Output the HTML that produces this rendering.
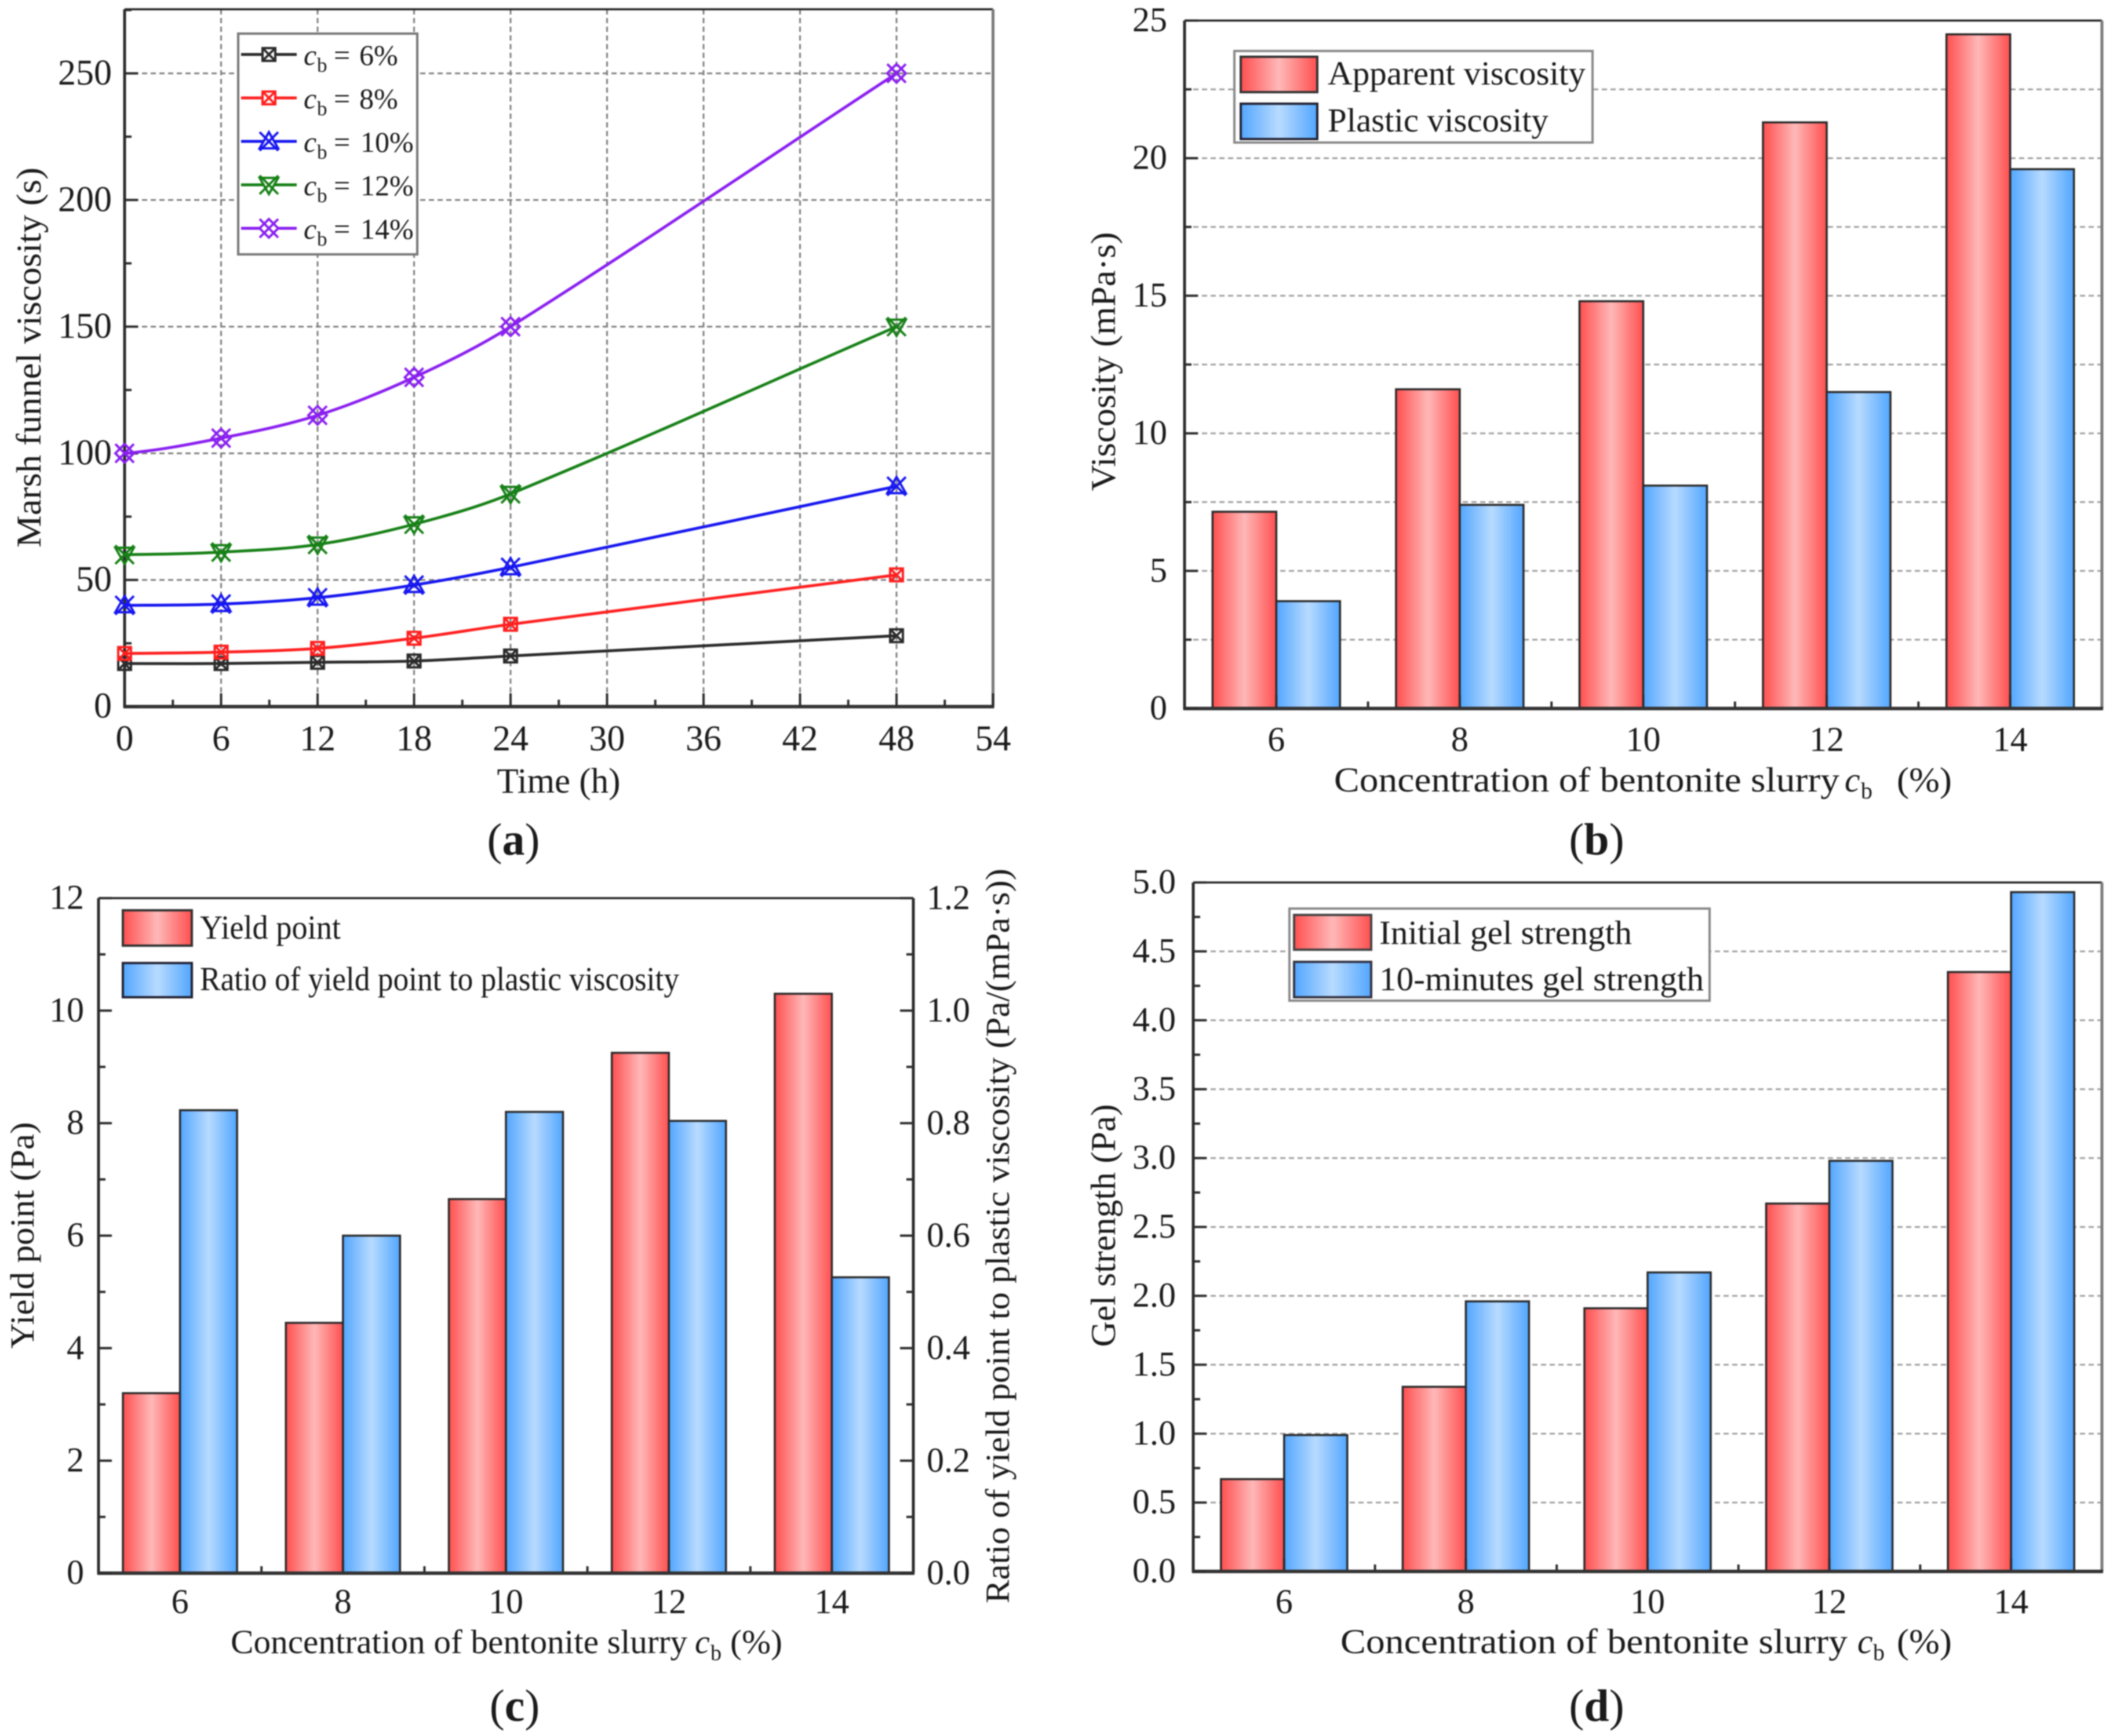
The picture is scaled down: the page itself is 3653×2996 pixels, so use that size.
<!DOCTYPE html>
<html><head><meta charset="utf-8"><title>Bentonite slurry properties</title>
<style>
html,body{margin:0;padding:0;background:#fff}
svg{display:block;filter:blur(1.1px)}
text{font-family:"Liberation Serif",serif;fill:#1a1a1a}
</style></head>
<body>
<svg id="fig" xmlns="http://www.w3.org/2000/svg" width="3653" height="2996" viewBox="0 0 3653 2996">
<defs>
<linearGradient id="redGrad" x1="0" x2="1" y1="0" y2="0"><stop offset="0" stop-color="#ff4f4f"/><stop offset="0.5" stop-color="#ffb8b8"/><stop offset="1" stop-color="#ff4f4f"/></linearGradient>
<linearGradient id="blueGrad" x1="0" x2="1" y1="0" y2="0"><stop offset="0" stop-color="#52a6ff"/><stop offset="0.5" stop-color="#b8dbff"/><stop offset="1" stop-color="#52a6ff"/></linearGradient>
</defs>
<rect x="0" y="0" width="3653" height="2996" fill="#fff"/>
<g id="layer-a"></g>
<g id="layer-b"></g>
<g id="layer-c"></g>
<g id="layer-d"></g>

<!-- panel a static text -->
<text transform="translate(70,617) rotate(-90)" text-anchor="middle" font-size="60" textLength="656" lengthAdjust="spacingAndGlyphs">Marsh funnel viscosity (s)</text>
<text x="964" y="1368" text-anchor="middle" font-size="61">Time (h)</text>
<g>
<rect x="411" y="58" width="309" height="381" fill="#fff" stroke="#777" stroke-width="4"/>
<g id="legend-a-marks"></g>
<g font-size="50">
<text y="112"><tspan x="524" font-style="italic">c</tspan><tspan x="547" dy="12" font-size="35">b</tspan><tspan x="576" dy="-12">=</tspan><tspan x="620">6%</tspan></text>
<text y="187"><tspan x="524" font-style="italic">c</tspan><tspan x="547" dy="12" font-size="35">b</tspan><tspan x="576" dy="-12">=</tspan><tspan x="620">8%</tspan></text>
<text y="262"><tspan x="524" font-style="italic">c</tspan><tspan x="547" dy="12" font-size="35">b</tspan><tspan x="576" dy="-12">=</tspan><tspan x="622">10%</tspan></text>
<text y="337"><tspan x="524" font-style="italic">c</tspan><tspan x="547" dy="12" font-size="35">b</tspan><tspan x="576" dy="-12">=</tspan><tspan x="622">12%</tspan></text>
<text y="412"><tspan x="524" font-style="italic">c</tspan><tspan x="547" dy="12" font-size="35">b</tspan><tspan x="576" dy="-12">=</tspan><tspan x="622">14%</tspan></text>
</g></g>
<text x="886" y="1475" text-anchor="middle" font-size="78">(<tspan font-weight="bold">a</tspan>)</text>

<!-- panel b static text -->
<text transform="translate(1924,624) rotate(-90)" text-anchor="middle" font-size="60" textLength="447" lengthAdjust="spacingAndGlyphs">Viscosity (mPa·s)</text>
<g font-size="60">
<text x="2302" y="1366" textLength="872" lengthAdjust="spacingAndGlyphs">Concentration of bentonite slurry</text>
<text y="1366"><tspan x="3183" font-style="italic">c</tspan><tspan x="3211" dy="12" font-size="40">b</tspan></text>
<text x="3273" y="1366" textLength="95" lengthAdjust="spacingAndGlyphs">(%)</text>
</g>
<g>
<rect x="2130" y="88" width="618" height="158" fill="#fff" stroke="#888" stroke-width="4"/>
<rect x="2141" y="98" width="132" height="61" fill="url(#redGrad)" stroke="#333" stroke-width="4"/>
<rect x="2141" y="179" width="132" height="61" fill="url(#blueGrad)" stroke="#223" stroke-width="4"/>
<text x="2291" y="146" font-size="58" textLength="445" lengthAdjust="spacingAndGlyphs">Apparent viscosity</text>
<text x="2291" y="227" font-size="58" textLength="381" lengthAdjust="spacingAndGlyphs">Plastic viscosity</text>
</g>
<text x="2755" y="1475" text-anchor="middle" font-size="78">(<tspan font-weight="bold">b</tspan>)</text>

<!-- panel c static text -->
<text transform="translate(58,2132) rotate(-90)" text-anchor="middle" font-size="58" textLength="391" lengthAdjust="spacingAndGlyphs">Yield point (Pa)</text>
<text transform="translate(1741,2133) rotate(-90)" text-anchor="middle" font-size="58" textLength="1268" lengthAdjust="spacingAndGlyphs">Ratio of yield point to plastic viscosity (Pa/(mPa·s))</text>
<g font-size="58">
<text x="398" y="2853" textLength="788" lengthAdjust="spacingAndGlyphs">Concentration of bentonite slurry</text>
<text y="2853"><tspan x="1199" font-style="italic">c</tspan><tspan x="1226" dy="12" font-size="38">b</tspan></text>
<text x="1260" y="2853" textLength="90" lengthAdjust="spacingAndGlyphs">(%)</text>
</g>
<g>
<rect x="212" y="1571" width="119" height="61" fill="url(#redGrad)" stroke="#333" stroke-width="4"/>
<rect x="212" y="1662" width="119" height="59" fill="url(#blueGrad)" stroke="#223" stroke-width="4"/>
<text x="345" y="1620" font-size="58" textLength="243" lengthAdjust="spacingAndGlyphs">Yield point</text>
<text x="345" y="1709" font-size="58" textLength="827" lengthAdjust="spacingAndGlyphs">Ratio of yield point to plastic viscosity</text>
</g>
<text x="888" y="2970" text-anchor="middle" font-size="78">(<tspan font-weight="bold">c</tspan>)</text>

<!-- panel d static text -->
<text transform="translate(1924,2115) rotate(-90)" text-anchor="middle" font-size="60" textLength="419" lengthAdjust="spacingAndGlyphs">Gel strength (Pa)</text>
<g font-size="60">
<text x="2313" y="2853" textLength="875" lengthAdjust="spacingAndGlyphs">Concentration of bentonite slurry</text>
<text y="2853"><tspan x="3205" font-style="italic">c</tspan><tspan x="3232" dy="12" font-size="40">b</tspan></text>
<text x="3273" y="2853" textLength="95" lengthAdjust="spacingAndGlyphs">(%)</text>
</g>
<g>
<rect x="2225" y="1568" width="725" height="159" fill="#fff" stroke="#888" stroke-width="4"/>
<rect x="2233" y="1579" width="133" height="60" fill="url(#redGrad)" stroke="#444" stroke-width="4"/>
<rect x="2233" y="1660" width="133" height="61" fill="url(#blueGrad)" stroke="#334" stroke-width="4"/>
<text x="2380" y="1629" font-size="58" textLength="436" lengthAdjust="spacingAndGlyphs">Initial gel strength</text>
<text x="2380" y="1709" font-size="58" textLength="560" lengthAdjust="spacingAndGlyphs">10-minutes gel strength</text>
</g>
<text x="2755" y="2970" text-anchor="middle" font-size="78">(<tspan font-weight="bold">d</tspan>)</text>
</svg>

<script>
// ---- panel a data ----
var hours = [0, 6, 12, 18, 24, 48];
var marsh6 = [17, 17, 17.5, 18, 20, 28];
var marsh8 = [21, 21.5, 23, 27, 32.5, 52];
var marsh10 = [40, 40.5, 43, 48, 55, 87];
var marsh12 = [60, 61, 64, 72, 84, 150];
var marsh14 = [100, 106, 115, 130, 150, 250];
var aXTicks = ['0','6','12','18','24','30','36','42','48','54'];
var aYTicks = ['0','50','100','150','200','250'];
// ---- panel b data ----
var concentrations = ['6','8','10','12','14'];
var apparentViscosity = [7.15, 11.6, 14.8, 21.3, 24.5];
var plasticViscosity = [3.9, 7.4, 8.1, 11.5, 19.6];
var bYTicks = ['0','5','10','15','20','25'];
// ---- panel c data ----
var yieldPoint = [3.2, 4.45, 6.65, 9.25, 10.3];
var yieldRatio = [0.823, 0.6, 0.82, 0.804, 0.526];
var cYTicks = ['0','2','4','6','8','10','12'];
var cRightTicks = ['0.0','0.2','0.4','0.6','0.8','1.0','1.2'];
// ---- panel d data ----
var initialGel = [0.67, 1.34, 1.91, 2.67, 4.35];
var tenMinuteGel = [0.99, 1.96, 2.17, 2.98, 4.93];
var dYTicks = ['0.0','0.5','1.0','1.5','2.0','2.5','3.0','3.5','4.0','4.5','5.0'];

var NS = 'http://www.w3.org/2000/svg';
function mk(parent, tag, attrs, txt) {
  var el = document.createElementNS(NS, tag);
  for (var k in attrs) el.setAttribute(k, attrs[k]);
  if (txt !== undefined) el.textContent = txt;
  parent.appendChild(el);
  return el;
}
var AXIS = '#2c2c2c';

function frame(g, p, darkRight) {
  var top = mk(g, 'line', {x1:p.L, x2:p.R, y1:p.T, y2:p.T, stroke:'#222', 'stroke-width':3.5});
  
  
  var right = mk(g, 'line', {x1:p.R, x2:p.R, y1:p.T, y2:p.B, stroke:darkRight ? AXIS : '#7a7a7a', 'stroke-width':5});
  
  
  var left = mk(g, 'line', {x1:p.L, x2:p.L, y1:p.T, y2:p.B + 2, stroke:AXIS, 'stroke-width':5});
  
  
  var bottom = mk(g, 'line', {x1:p.L - 2, x2:p.R + 2, y1:p.B, y2:p.B, stroke:'#333', 'stroke-width':6});
  
  
}
function yAt(p, v) { return p.B - (p.B - p.T) * v / p.ymax; }

function hGrid(g, p, v) {
  var y = yAt(p, v);
  var line = mk(g, 'line', {x1:p.L, x2:p.R, y1:y, y2:y, stroke:p.grid, 'stroke-width':3, 'stroke-dasharray':'9 6'});
  
  
}
function yTick(g, p, v, len, side) {
  var y = yAt(p, v);
  var x = side === 'right' ? p.R : p.L;
  var d = side === 'right' ? -len : len;
  var t = mk(g, 'line', {x1:x, x2:x + d, y1:y, y2:y, stroke:AXIS, 'stroke-width':4});
  
  
}
function xTick(g, p, x, len) {
  var t = mk(g, 'line', {x1:x, x2:x, y1:p.B, y2:p.B - len, stroke:AXIS, 'stroke-width':4});
  
  
}
function yLabels(g, p, labels) {
  labels.forEach(function (s) {
    var y = yAt(p, Number(s));
    var t = mk(g, 'text', {x:p.labelR, y:y + p.fs * 0.31, 'text-anchor':'end', 'font-size':p.fs}, s);
    
    
  });
}
function xLabel(g, p, x, s) {
  var t = mk(g, 'text', {x:x, y:p.tickBase, 'text-anchor':'middle', 'font-size':p.fs}, s);
  
  
}
function bar(g, x, y, w, h, grad) {
  var b = mk(g, 'rect', {x:x, y:y, width:w, height:h, fill:'url(#' + grad + ')', stroke:'#2a2a2a', 'stroke-width':3.5});
  
  
}

function barPanel(id, p, s1, s2, yTicks, yMax2, gridEvery, minor) {
  var g = document.getElementById(id);
  var n = concentrations.length;
  var step = (p.R - p.L) / n;
  if (gridEvery) {
    for (var v = gridEvery; v < p.ymax - 1e-6; v += gridEvery) hGrid(g, p, v);
  }
  concentrations.forEach(function (c, i) {
    var cx = p.L + (i + 0.5) * step;
    var y1 = yAt(p, s1[i]);
    var y2 = yAt({B:p.B, T:p.T, ymax:yMax2 || p.ymax}, s2[i]);
    bar(g, cx - p.bw, y1, p.bw, p.B - y1, 'redGrad');
    bar(g, cx, y2, p.bw, p.B - y2, 'blueGrad');
    xLabel(g, p, cx, c);
    xTick(g, p, cx, 23);
    if (i > 0) xTick(g, p, p.L + i * step, 12);
  });
  frame(g, p, !!yMax2);
  yTicks.forEach(function (s) {
    yTick(g, p, Number(s), 23, 'left');
    if (yMax2) yTick(g, p, Number(s), 23, 'right');
  });
  for (var m = minor; m < p.ymax; m += minor * 2) {
    yTick(g, p, m, 12, 'left');
    if (yMax2) yTick(g, p, m, 12, 'right');
  }
  yLabels(g, p, yTicks);
}

// ---- panel a ----
var pa = {L:215, R:1713.5, T:16, B:1219.5, ymax:275.3, xmax:54, fs:62, labelR:193, tickBase:1295, grid:'#808080'};
function xA(h) { return pa.L + (pa.R - pa.L) * h / pa.xmax; }
function curve(xs, ys) {
  var n = xs.length, m = [], i;
  for (i = 0; i < n; i++) {
    if (i === 0) m.push((ys[1] - ys[0]) / (xs[1] - xs[0]));
    else if (i === n - 1) m.push((ys[i] - ys[i-1]) / (xs[i] - xs[i-1]));
    else m.push((ys[i+1] - ys[i-1]) / (xs[i+1] - xs[i-1]));
  }
  m[0] = m[0] * 0.5;
  var d = 'M' + xA(xs[0]) + ' ' + yAt(pa, ys[0]);
  for (i = 0; i < n - 1; i++) {
    var dx = (xs[i+1] - xs[i]) / 3;
    d += ' C' + xA(xs[i] + dx) + ' ' + yAt(pa, ys[i] + m[i] * dx) + ' ' +
         xA(xs[i+1] - dx) + ' ' + yAt(pa, ys[i+1] - m[i+1] * dx) + ' ' +
         xA(xs[i+1]) + ' ' + yAt(pa, ys[i+1]);
  }
  return d;
}
function markerPath(kind, x, y) {
  var r = 11, X = 16;
  var cross = 'M' + (x-X) + ' ' + (y-X) + 'L' + (x+X) + ' ' + (y+X) + 'M' + (x+X) + ' ' + (y-X) + 'L' + (x-X) + ' ' + (y+X);
  if (kind === 'square') {
    return 'M' + (x-r) + ' ' + (y-r) + 'H' + (x+r) + 'V' + (y+r) + 'H' + (x-r) + 'Z' +
      'M' + (x-r) + ' ' + (y-r) + 'L' + (x+r) + ' ' + (y+r) + 'M' + (x+r) + ' ' + (y-r) + 'L' + (x-r) + ' ' + (y+r);
  }
  if (kind === 'tri-up') return 'M' + x + ' ' + (y-X) + 'L' + (x+X) + ' ' + (y+X-4) + 'H' + (x-X) + 'Z' + cross;
  if (kind === 'tri-down') return 'M' + x + ' ' + (y+X) + 'L' + (x+X) + ' ' + (y-X+4) + 'H' + (x-X) + 'Z' + cross;
  return 'M' + x + ' ' + (y-X) + 'L' + (x+X) + ' ' + y + 'L' + x + ' ' + (y+X) + 'L' + (x-X) + ' ' + y + 'Z' + cross;
}
(function () {
  var g = document.getElementById('layer-a');
  aYTicks.slice(1).forEach(function (s) { hGrid(g, pa, Number(s)); });
  aXTicks.slice(1, 9).forEach(function (s) {
    var x = xA(Number(s));
    var l = mk(g, 'line', {x1:x, x2:x, y1:pa.T, y2:pa.B, stroke:pa.grid, 'stroke-width':3, 'stroke-dasharray':'9 6'});
    
    
  });
  frame(g, pa, false);
  aXTicks.forEach(function (s) {
    xTick(g, pa, xA(Number(s)), 23);
    if (Number(s) < pa.xmax) xTick(g, pa, xA(Number(s) + 3), 12);
    xLabel(g, pa, xA(Number(s)), s);
  });
  aYTicks.forEach(function (s) {
    yTick(g, pa, Number(s), 23, 'left');
    yTick(g, pa, Number(s) + 25, 12, 'left');
  });
  yLabels(g, pa, aYTicks);

  var series = [
    {vals:marsh6, color:'#2b2b2b', kind:'square', legendY:94},
    {vals:marsh8, color:'#ff1f1f', kind:'square', legendY:169},
    {vals:marsh10, color:'#1616f0', kind:'tri-up', legendY:244},
    {vals:marsh12, color:'#168016', kind:'tri-down', legendY:319},
    {vals:marsh14, color:'#8a1ff0', kind:'diamond', legendY:394}
  ];
  var legendMarks = document.getElementById('legend-a-marks');
  series.forEach(function (s) {
    var line = mk(g, 'path', {d:curve(hours, s.vals), fill:'none', stroke:s.color, 'stroke-width':5});
    
    
    hours.forEach(function (h, i) {
      var pt = mk(g, 'path', {d:markerPath(s.kind, xA(h), yAt(pa, s.vals[i])), fill:'none', stroke:s.color, 'stroke-width':4});
      
      
    });
    var ll = mk(legendMarks, 'line', {x1:416, x2:512, y1:s.legendY, y2:s.legendY, stroke:s.color, 'stroke-width':5});
    
    
    var lm = mk(legendMarks, 'path', {d:markerPath(s.kind, 464, s.legendY), fill:'#fff', stroke:s.color, 'stroke-width':4});
    
    
  });
})();

// ---- panels b, c, d ----
barPanel('layer-b', {L:2044, R:3627, T:35.5, B:1222.7, ymax:25, bw:110, fs:60, labelR:2014, tickBase:1296, grid:'#a0a0a0'},
  apparentViscosity, plasticViscosity, bYTicks, null, 2.5, 2.5);

var pc = {L:170, R:1576, T:1550, B:2715, ymax:12, bw:98.5, fs:60, labelR:145, tickBase:2784, grid:'#a0a0a0'};
barPanel('layer-c', pc, yieldPoint, yieldRatio, cYTicks, 1.2, 0, 1);
(function () {
  var g = document.getElementById('layer-c');
  cRightTicks.forEach(function (s) {
    var y = yAt({B:pc.B, T:pc.T, ymax:1.2}, Number(s));
    var t = mk(g, 'text', {x:1599, y:y + 19, 'font-size':60}, s);
    
    
  });
})();

barPanel('layer-d', {L:2059, R:3627, T:1523, B:2712, ymax:5, bw:109, fs:60, labelR:2029, tickBase:2784, grid:'#a0a0a0'},
  initialGel, tenMinuteGel, dYTicks, null, 0.5, 0.25);
</script>
</body></html>
